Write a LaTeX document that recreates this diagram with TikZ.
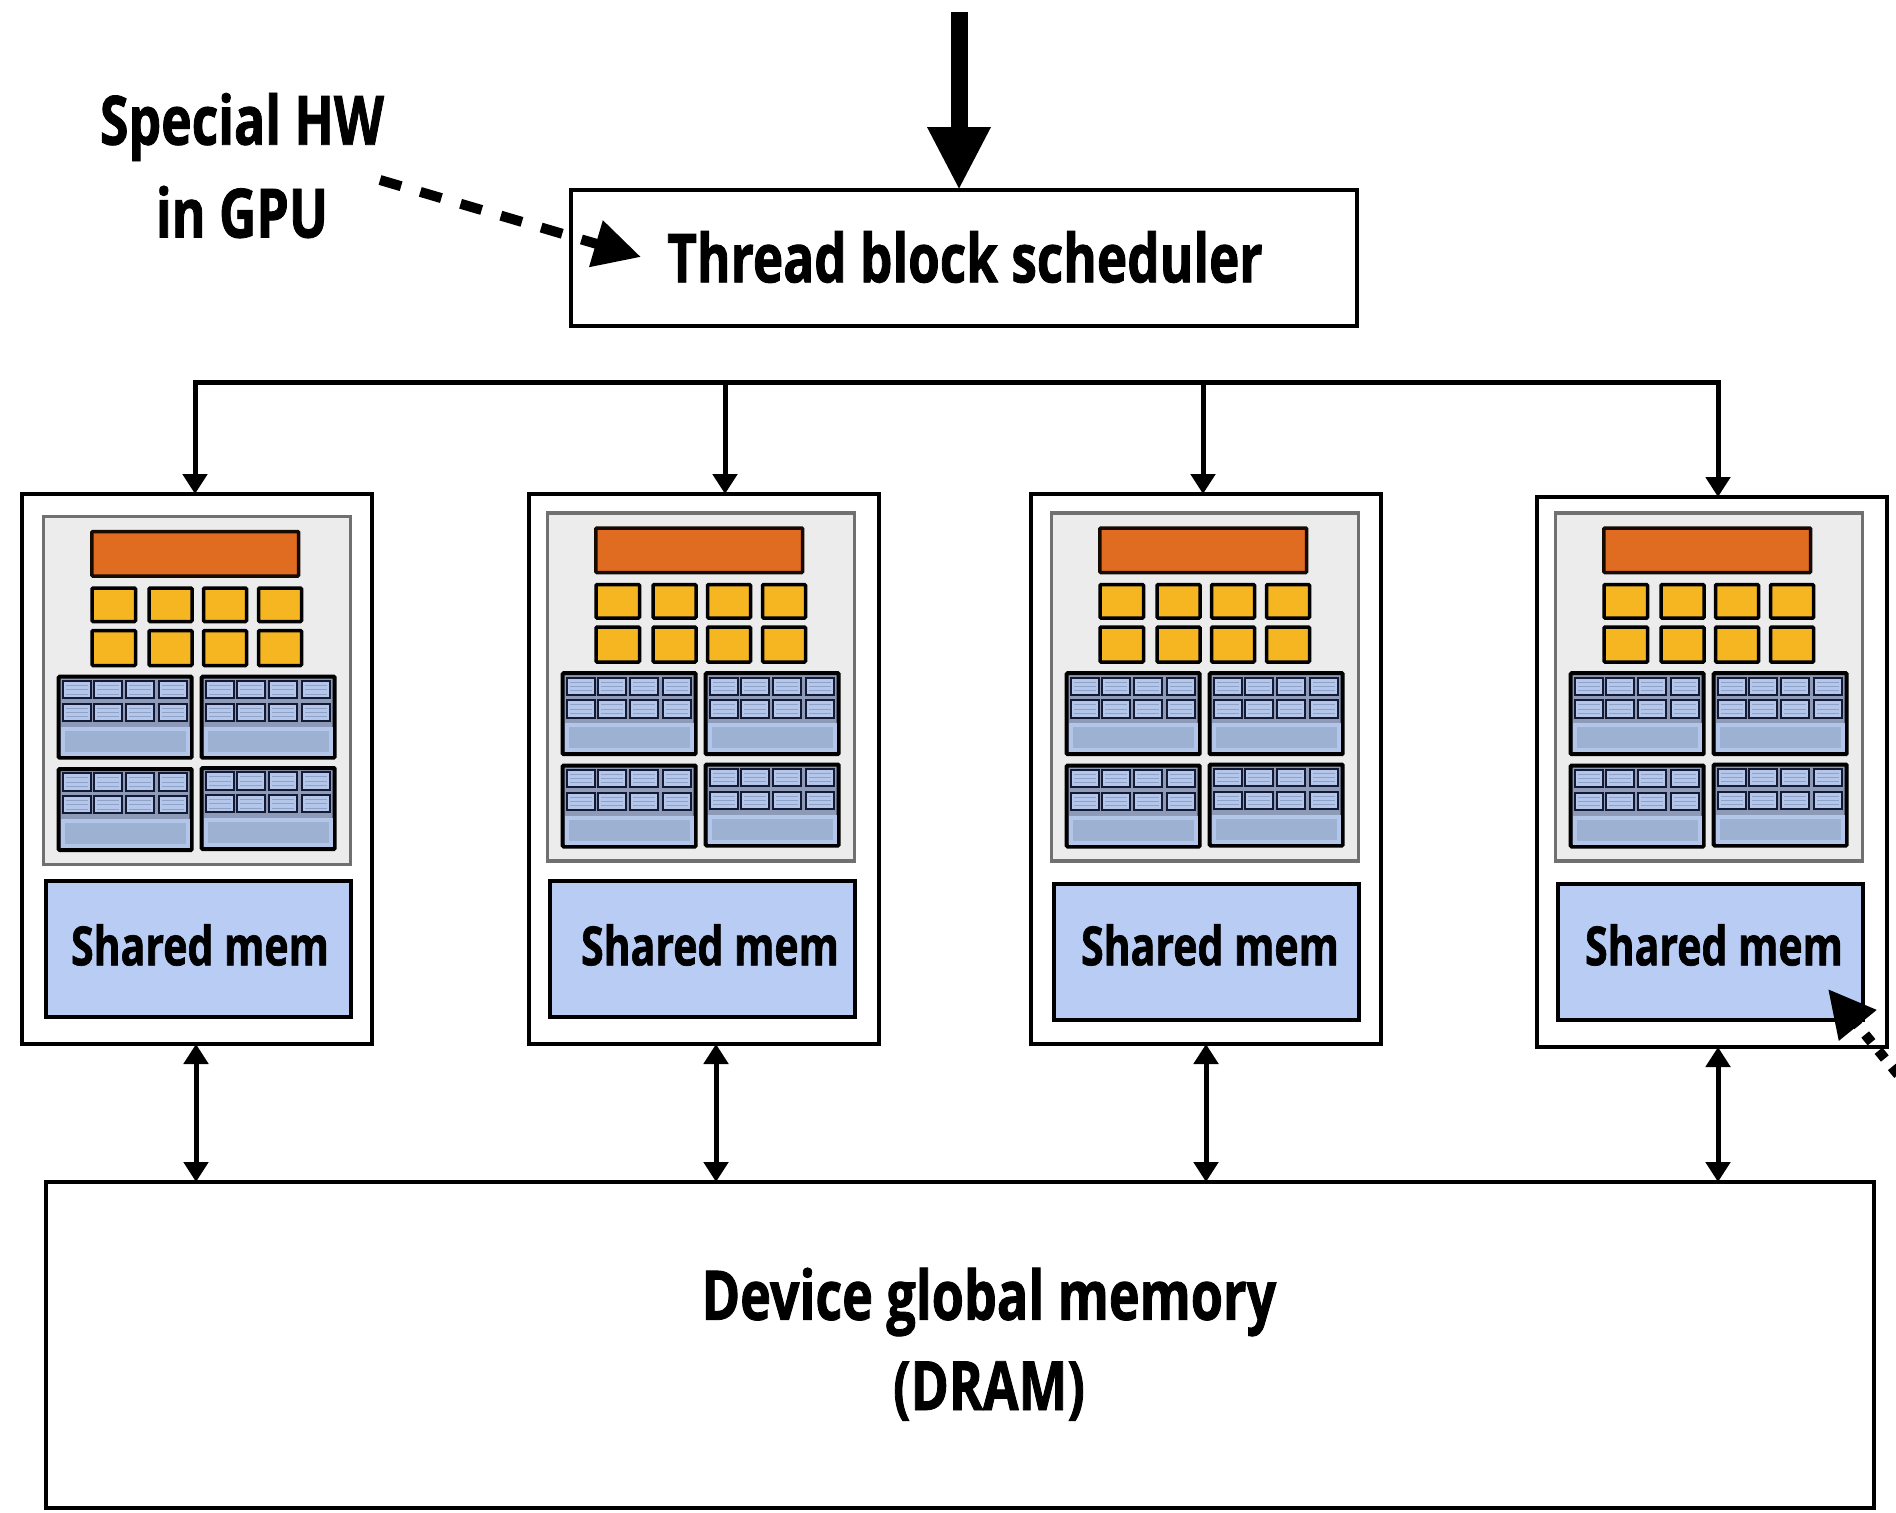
\documentclass[tikz,border=0pt]{standalone}
\usepackage{fontspec}
\usetikzlibrary{arrows.meta}
\newfontfamily\lab{Open Sans}[FakeStretch=0.76,BoldFeatures={FakeBold=1.2}]
\definecolor{orangec}{HTML}{E06C22}
\definecolor{yellowc}{HTML}{F5B622}
\definecolor{chipc}{HTML}{ECECEC}
\definecolor{chipedge}{HTML}{707070}
\definecolor{memc}{HTML}{B9CDF4}
\definecolor{groupc}{HTML}{8E9BB8}
\definecolor{cellc}{HTML}{B4C7EA}
\definecolor{cellline}{HTML}{8FA3C8}
\definecolor{barc}{HTML}{B3C6EA}
\definecolor{barin}{HTML}{9DB1D3}
\definecolor{navy}{HTML}{141A33}
\tikzset{
  box/.style={draw=black,line width=4.8pt,inner sep=0pt,outer sep=0pt,anchor=north west},
  corebox/.style={box,fill=white,minimum width=350pt,minimum height=550pt},
  membox/.style={box,fill=memc,minimum width=305pt,minimum height=136pt},
  lbl/.style={font=\lab\bfseries\fontsize{#1}{#1}\selectfont,text=black,inner sep=0pt,outer sep=0pt,anchor=center},
  link/.style={draw=black,line width=5pt},
  down/.style={link,-{Triangle[length=20pt,width=24pt]}},
  both/.style={link,{Triangle[length=20pt,width=24pt]}-{Triangle[length=20pt,width=24pt]}},
  chipbg/.style={draw=chipedge,fill=chipc,line width=3.5pt},
  orangeb/.style={draw=black!90!orangec,fill=orangec,line width=3.5pt,rounded corners=1pt},
  yellowb/.style={draw=black,fill=yellowc,line width=3.5pt,rounded corners=1pt},
  groupb/.style={draw=black,fill=groupc,line width=4pt,rounded corners=1pt},
  cellb/.style={draw=navy,fill=cellc,line width=2pt},
  barb/.style={fill=barc},
  barinb/.style={fill=barin},
  stripe/.style={draw=cellline,line width=.7pt},
}
% one block of compute units; #1 x, #2 y of the top left corner of the group
\newcommand{\unitgroup}[2]{%
  \begin{scope}[shift={(#1,#2)}]
    \draw[groupb] (0,0) rectangle (133,81);
    \fill[barb] (2,50) rectangle (131,79);
    \fill[barinb] (6,54) rectangle (127,75);
    \foreach \cx in {4.5,35.7,67.7,100.3}{
      \foreach \cy in {4.3,27}{
        \draw[cellb] (\cx,\cy) rectangle ++(28,17.3);
        \foreach \sy in {4.5,8.7,13}{
          \draw[stripe] (\cx+3,\cy+\sy) -- ++(22,0);
        }
      }
    }
  \end{scope}%
}
% the whole chip picture; #1 x offset, #2 y offset
\newcommand{\chippic}[2]{%
  \begin{scope}[shift={(#1,#2)}]
    \draw[chipbg] (43.5,516.5) rectangle (350.5,864.5);
    \draw[orangeb] (91.8,531.5) rectangle (298.6,576);
    \foreach \yx/\yw in {92/43.5,149/43,203.5/43,258.5/43}{
      \foreach \yy/\yh in {588/33.5,630.5/35}{
        \draw[yellowb] (\yx,\yy) rectangle ++(\yw,\yh);
      }
    }
    \unitgroup{58.7}{676.7}
    \unitgroup{201.7}{676.7}
    \unitgroup{58.7}{769}
    \unitgroup{201.7}{768}
  \end{scope}%
}
\begin{document}
\begin{tikzpicture}[x=1pt,y=-1pt]
\useasboundingbox (0,0) rectangle (1896,1513);
\fill[white] (0,0) rectangle (1896,1513);

% core boxes
\node[corebox] (core1) at (22,494) {};
\node[corebox] (core2) at (529,494) {};
\node[corebox] (core3) at (1031,494) {};
\node[corebox] (core4) at (1537,497) {};

% chips
\chippic{0}{0}
\chippic{504}{-3.5}
\chippic{1008}{-3.5}
\chippic{1512}{-3.5}

% shared memory
\node[membox] (sm1) at (46,881) {};
\node[membox] (sm2) at (550,881) {};
\node[membox] (sm3) at (1054,884) {};
\node[membox] (sm4) at (1558,884) {};
\node[lbl=54pt] (st1) at (200,945) {Shared mem};
\node[lbl=54pt] (st2) at (710,945) {Shared mem};
\node[lbl=54pt] (st3) at (1210,945) {Shared mem};
\node[lbl=54pt] (st4) at (1714,945) {Shared mem};

% scheduler
\node[box,minimum width=786pt,minimum height=136pt,fill=white] (sched) at (571,190) {};
\node[lbl=67.5pt] (schedt) at (965,257) {Thread block scheduler};

% global memory
\node[box,minimum width=1828pt,minimum height=326pt,fill=white] (mem) at (46,1182) {};
\node[lbl=68.5pt] (memt1) at (989,1302) {Device global memory};
\node[lbl=68pt] (memt2) at (989,1391) {(DRAM)};

% special hw
\node[lbl=68pt] (hw1) at (242,127) {Special HW};
\node[lbl=68pt] (hw2) at (242,212) {in GPU};

% big arrow
\coordinate (top) at (959,12);
\draw[line width=17pt,-{Triangle[length=63pt,width=59pt]},draw=black] (top) -- (top |- sched.north);

% bus
\coordinate (b1) at (195,382);
\coordinate (b2) at (725,382);
\coordinate (b3) at (1203,382);
\coordinate (b4) at (1718,382);
\draw[link,line cap=rect] (b1) -- (b4);
\draw[down] (b1) -- (b1 |- core1.north);
\draw[down] (b2) -- (b2 |- core2.north);
\draw[down] (b3) -- (b3 |- core3.north);
\draw[down] (b4) -- (b4 |- core4.north);

% memory links
\coordinate (m1) at (196,0);
\coordinate (m2) at (716,0);
\coordinate (m3) at (1206,0);
\coordinate (m4) at (1718,0);
\draw[both] (m1 |- core1.south) -- (m1 |- mem.north);
\draw[both] (m2 |- core2.south) -- (m2 |- mem.north);
\draw[both] (m3 |- core3.south) -- (m3 |- mem.north);
\draw[both] (m4 |- core4.south) -- (m4 |- mem.north);

% dashed arrows
\coordinate (ds) at (380,180);
\coordinate (dt) at (641,257);
\draw[line width=10pt,dash pattern=on 22pt off 20pt,-{Triangle[length=47pt,width=46pt]}] (ds) -- (dt);
\coordinate (es) at (1911.4,1091);
\coordinate (et) at (1828,989);
\draw[line width=10pt,dash pattern=on 10pt off 11pt,-{Triangle[length=47pt,width=46pt]}] (es) -- (et);
\end{tikzpicture}
\end{document}
